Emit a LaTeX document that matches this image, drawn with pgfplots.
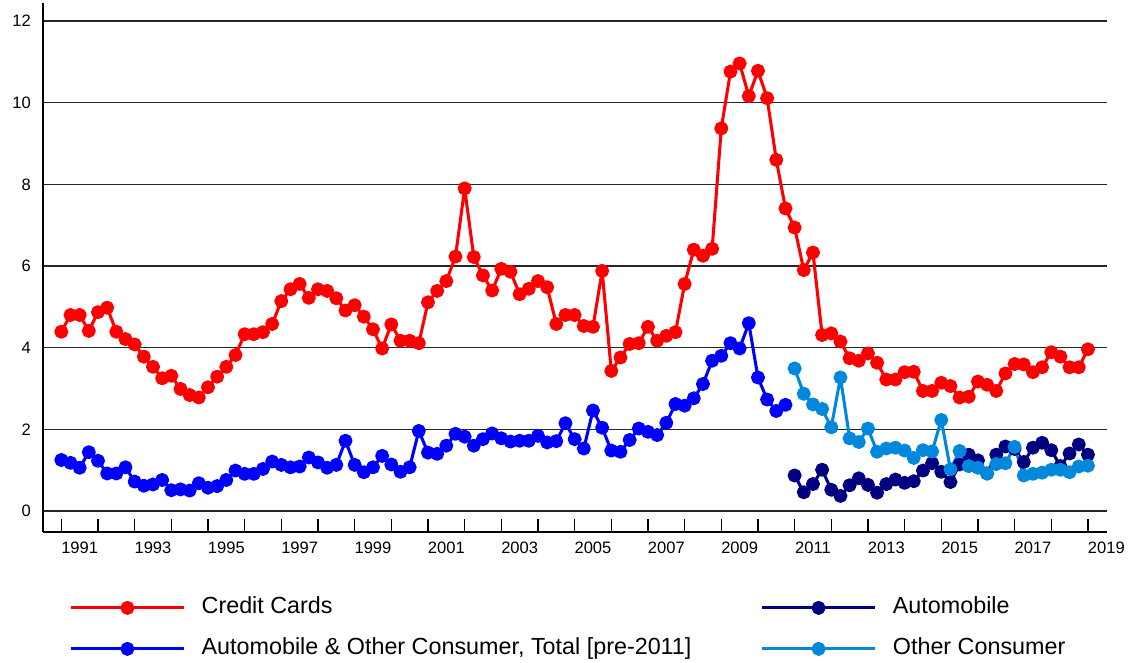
\documentclass[border=0pt]{standalone}
\usepackage{pgfplots}
\usepackage{pgfplotstable}
\pgfplotsset{compat=1.18}
\usepackage{fontspec}
\setmainfont{Liberation Sans}
\definecolor{ccred}{RGB}{255,0,0}
\definecolor{totblue}{RGB}{0,0,255}
\definecolor{autonavy}{RGB}{0,0,128}
\definecolor{othblue}{RGB}{0,136,221}

\pgfplotstableread{
t v
1991.00 4.39
1991.25 4.80
1991.50 4.80
1991.75 4.41
1992.00 4.87
1992.25 4.98
1992.50 4.39
1992.75 4.21
1993.00 4.08
1993.25 3.78
1993.50 3.53
1993.75 3.25
1994.00 3.31
1994.25 2.99
1994.50 2.84
1994.75 2.78
1995.00 3.03
1995.25 3.29
1995.50 3.53
1995.75 3.82
1996.00 4.33
1996.25 4.33
1996.50 4.38
1996.75 4.58
1997.00 5.14
1997.25 5.43
1997.50 5.56
1997.75 5.22
1998.00 5.43
1998.25 5.39
1998.50 5.21
1998.75 4.91
1999.00 5.04
1999.25 4.76
1999.50 4.45
1999.75 3.98
2000.00 4.57
2000.25 4.17
2000.50 4.17
2000.75 4.11
2001.00 5.11
2001.25 5.39
2001.50 5.63
2001.75 6.23
2002.00 7.90
2002.25 6.22
2002.50 5.77
2002.75 5.40
2003.00 5.93
2003.25 5.86
2003.50 5.31
2003.75 5.44
2004.00 5.63
2004.25 5.48
2004.50 4.58
2004.75 4.80
2005.00 4.80
2005.25 4.53
2005.50 4.51
2005.75 5.88
2006.00 3.43
2006.25 3.76
2006.50 4.09
2006.75 4.11
2007.00 4.51
2007.25 4.17
2007.50 4.29
2007.75 4.38
2008.00 5.56
2008.25 6.40
2008.50 6.25
2008.75 6.42
2009.00 9.37
2009.25 10.76
2009.50 10.96
2009.75 10.16
2010.00 10.78
2010.25 10.11
2010.50 8.60
2010.75 7.41
2011.00 6.94
2011.25 5.90
2011.50 6.33
2011.75 4.31
2012.00 4.35
2012.25 4.15
2012.50 3.74
2012.75 3.68
2013.00 3.86
2013.25 3.63
2013.50 3.22
2013.75 3.22
2014.00 3.40
2014.25 3.41
2014.50 2.94
2014.75 2.94
2015.00 3.14
2015.25 3.06
2015.50 2.78
2015.75 2.80
2016.00 3.17
2016.25 3.09
2016.50 2.94
2016.75 3.37
2017.00 3.60
2017.25 3.59
2017.50 3.40
2017.75 3.52
2018.00 3.89
2018.25 3.78
2018.50 3.52
2018.75 3.52
2019.00 3.96
}\credit

\pgfplotstableread{
t v
1991.00 1.25
1991.25 1.18
1991.50 1.06
1991.75 1.44
1992.00 1.23
1992.25 0.92
1992.50 0.92
1992.75 1.07
1993.00 0.72
1993.25 0.62
1993.50 0.65
1993.75 0.76
1994.00 0.51
1994.25 0.53
1994.50 0.50
1994.75 0.68
1995.00 0.57
1995.25 0.61
1995.50 0.76
1995.75 0.99
1996.00 0.91
1996.25 0.91
1996.50 1.03
1996.75 1.21
1997.00 1.13
1997.25 1.07
1997.50 1.09
1997.75 1.31
1998.00 1.19
1998.25 1.06
1998.50 1.13
1998.75 1.72
1999.00 1.13
1999.25 0.95
1999.50 1.07
1999.75 1.35
2000.00 1.14
2000.25 0.96
2000.50 1.07
2000.75 1.96
2001.00 1.43
2001.25 1.40
2001.50 1.60
2001.75 1.89
2002.00 1.82
2002.25 1.60
2002.50 1.76
2002.75 1.90
2003.00 1.78
2003.25 1.70
2003.50 1.72
2003.75 1.72
2004.00 1.84
2004.25 1.68
2004.50 1.71
2004.75 2.15
2005.00 1.76
2005.25 1.53
2005.50 2.46
2005.75 2.04
2006.00 1.48
2006.25 1.45
2006.50 1.74
2006.75 2.02
2007.00 1.94
2007.25 1.86
2007.50 2.16
2007.75 2.62
2008.00 2.58
2008.25 2.76
2008.50 3.11
2008.75 3.68
2009.00 3.80
2009.25 4.11
2009.50 3.98
2009.75 4.60
2010.00 3.27
2010.25 2.73
2010.50 2.45
2010.75 2.60
}\total

\pgfplotstableread{
t auto other
2011.00 0.87 3.49
2011.25 0.46 2.87
2011.50 0.66 2.61
2011.75 1.01 2.50
2012.00 0.52 2.05
2012.25 0.37 3.27
2012.50 0.63 1.78
2012.75 0.80 1.69
2013.00 0.64 2.02
2013.25 0.45 1.45
2013.50 0.66 1.53
2013.75 0.77 1.55
2014.00 0.69 1.48
2014.25 0.73 1.30
2014.50 0.99 1.49
2014.75 1.17 1.46
2015.00 0.96 2.23
2015.25 0.71 1.02
2015.50 1.14 1.47
2015.75 1.38 1.10
2016.00 1.24 1.06
2016.25 0.92 0.92
2016.50 1.38 1.15
2016.75 1.58 1.17
2017.00 1.52 1.57
2017.25 1.20 0.87
2017.50 1.55 0.91
2017.75 1.67 0.94
2018.00 1.49 1.01
2018.25 1.10 1.01
2018.50 1.41 0.95
2018.75 1.63 1.09
2019.00 1.38 1.11
}\post

\begin{document}
\begin{tikzpicture}
\begin{axis}[
  scale only axis,
  width=798pt, height=396.75pt,
  xmin=1990.5, xmax=2019.52,
  ymin=-0.514, ymax=12.44,
  axis x line*=bottom, axis y line*=left,
  axis line style={black, line width=1.1pt},
  xtick={1991.5,1993.5,...,2019.5},
  xticklabels={1991,1993,1995,1997,1999,2001,2003,2005,2007,2009,2011,2013,2015,2017,2019},
  minor xtick={1991,1992,...,2019},
  ytick={0,2,...,12},
  major tick length=0pt,
  minor tick length=10pt,
  tick align=inside,
  tick style={black, line width=1pt},
  ymajorgrids,
  grid style={black!85, line width=1.2pt},
  /pgf/number format/assume math mode=true,
  ticklabel style={font=\fontsize{12.4}{14}\selectfont},
  xticklabel style={yshift=-4pt},
  yticklabel style={xshift=-5.6pt},
  every axis plot/.append style={line width=2.3pt, line join=round, mark=*, mark size=4.1pt},
  legend columns=2,
  legend cell align=left,
  legend style={draw=none, fill=none, inner sep=0pt,
    at={(axis description cs:0.0245,-0.1215)}, anchor=north west,
    font=\fontsize{17.5}{21}\selectfont,
    row sep=13.75pt,
    nodes={inner sep=0pt, text height=13pt, text depth=4pt},
    /tikz/every odd column/.append style={column sep=12.2pt},
    /tikz/every even column/.append style={column sep=51.8pt}},
  legend image code/.code={\draw[mark repeat=2,mark phase=2] plot coordinates {(0pt,0pt) (42.4pt,0pt) (84.75pt,0pt)};},
]
\addplot[color=ccred, mark options={fill=ccred}] table[x=t,y=v] {\credit};
\addlegendentry{Credit Cards}
\addplot[color=autonavy, mark options={fill=autonavy}] table[x=t,y=auto] {\post};
\addlegendentry{Automobile}
\addplot[color=totblue, mark options={fill=totblue}] table[x=t,y=v] {\total};
\addlegendentry{Automobile \& Other Consumer, Total [pre-2011]}
\addplot[color=othblue, mark options={fill=othblue}] table[x=t,y=other] {\post};
\addlegendentry{Other Consumer}
\end{axis}
\pgfresetboundingbox
\useasboundingbox (-32.25pt,-97.5pt) rectangle (816.75pt,399pt);
\end{tikzpicture}
\end{document}
